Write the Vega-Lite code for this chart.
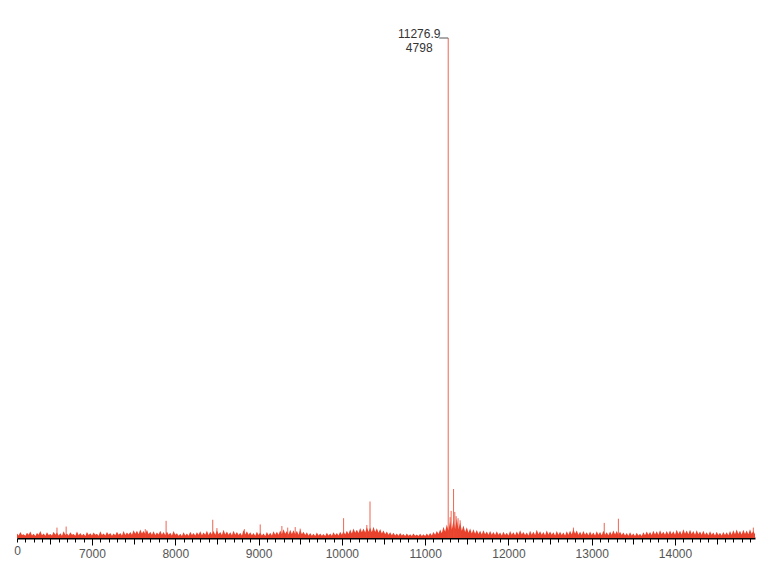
{
  "$schema": "https://vega.github.io/schema/vega-lite/v6.json",
  "width": 738,
  "height": 500,
  "autosize": {"type": "none"},
  "padding": {"left": 17, "top": 38, "right": 20, "bottom": 41},
  "background": "white",
  "config": {"view": {"stroke": null}, "font": "Liberation Sans"},
  "datasets": {
    "noise": [
      {"mz":6100,"i":42},{"mz":6120,"i":24},{"mz":6140,"i":57},{"mz":6160,"i":28},{"mz":6180,"i":37},{"mz":6200,"i":22},{"mz":6220,"i":50},{"mz":6240,"i":30},{"mz":6260,"i":62},{"mz":6280,"i":25},
      {"mz":6300,"i":40},{"mz":6320,"i":20},{"mz":6340,"i":47},{"mz":6360,"i":32},{"mz":6380,"i":67},{"mz":6400,"i":26},{"mz":6420,"i":42},{"mz":6440,"i":22},{"mz":6460,"i":54},{"mz":6480,"i":29},
      {"mz":6500,"i":38},{"mz":6520,"i":24},{"mz":6540,"i":60},{"mz":6560,"i":30},{"mz":6580,"i":52},{"mz":6600,"i":25},{"mz":6620,"i":45},{"mz":6640,"i":21},{"mz":6660,"i":64},{"mz":6680,"i":28},
      {"mz":6700,"i":42},{"mz":6720,"i":23},{"mz":6740,"i":56},{"mz":6760,"i":31},{"mz":6780,"i":39},{"mz":6800,"i":22},{"mz":6820,"i":62},{"mz":6840,"i":27},{"mz":6860,"i":48},{"mz":6880,"i":24},
      {"mz":6900,"i":41},{"mz":6920,"i":20},{"mz":6940,"i":58},{"mz":6960,"i":29},{"mz":6980,"i":46},{"mz":7000,"i":25},{"mz":7020,"i":52},{"mz":7040,"i":32},{"mz":7060,"i":40},{"mz":7080,"i":22},
      {"mz":7100,"i":64},{"mz":7120,"i":28},{"mz":7140,"i":43},{"mz":7160,"i":24},{"mz":7180,"i":57},{"mz":7200,"i":30},{"mz":7220,"i":49},{"mz":7240,"i":21},{"mz":7260,"i":42},{"mz":7280,"i":26},
      {"mz":7300,"i":60},{"mz":7320,"i":31},{"mz":7340,"i":47},{"mz":7360,"i":23},{"mz":7380,"i":67},{"mz":7400,"i":28},{"mz":7420,"i":52},{"mz":7440,"i":34},{"mz":7460,"i":58},{"mz":7480,"i":30},
      {"mz":7500,"i":74},{"mz":7520,"i":40},{"mz":7540,"i":70},{"mz":7560,"i":36},{"mz":7580,"i":82},{"mz":7600,"i":44},{"mz":7620,"i":67},{"mz":7640,"i":38},{"mz":7660,"i":78},{"mz":7680,"i":35},
      {"mz":7700,"i":60},{"mz":7720,"i":32},{"mz":7740,"i":64},{"mz":7760,"i":28},{"mz":7780,"i":52},{"mz":7800,"i":34},{"mz":7820,"i":70},{"mz":7840,"i":30},{"mz":7860,"i":57},{"mz":7880,"i":26},
      {"mz":7900,"i":62},{"mz":7920,"i":32},{"mz":7940,"i":50},{"mz":7960,"i":24},{"mz":7980,"i":67},{"mz":8000,"i":30},{"mz":8020,"i":46},{"mz":8040,"i":22},{"mz":8060,"i":40},{"mz":8080,"i":20},
      {"mz":8100,"i":54},{"mz":8120,"i":25},{"mz":8140,"i":42},{"mz":8160,"i":22},{"mz":8180,"i":60},{"mz":8200,"i":28},{"mz":8220,"i":48},{"mz":8240,"i":24},{"mz":8260,"i":56},{"mz":8280,"i":30},
      {"mz":8300,"i":64},{"mz":8320,"i":26},{"mz":8340,"i":52},{"mz":8360,"i":32},{"mz":8380,"i":70},{"mz":8400,"i":28},{"mz":8420,"i":59},{"mz":8440,"i":34},{"mz":8460,"i":67},{"mz":8480,"i":30},
      {"mz":8500,"i":74},{"mz":8520,"i":36},{"mz":8540,"i":57},{"mz":8560,"i":28},{"mz":8580,"i":78},{"mz":8600,"i":34},{"mz":8620,"i":62},{"mz":8640,"i":30},{"mz":8660,"i":54},{"mz":8680,"i":26},
      {"mz":8700,"i":70},{"mz":8720,"i":32},{"mz":8740,"i":58},{"mz":8760,"i":28},{"mz":8780,"i":50},{"mz":8800,"i":24},{"mz":8820,"i":76},{"mz":8840,"i":34},{"mz":8860,"i":64},{"mz":8880,"i":30},
      {"mz":8900,"i":56},{"mz":8920,"i":26},{"mz":8940,"i":48},{"mz":8960,"i":22},{"mz":8980,"i":60},{"mz":9000,"i":28},{"mz":9020,"i":52},{"mz":9040,"i":24},{"mz":9060,"i":42},{"mz":9080,"i":20},
      {"mz":9100,"i":57},{"mz":9120,"i":26},{"mz":9140,"i":50},{"mz":9160,"i":23},{"mz":9180,"i":64},{"mz":9200,"i":30},{"mz":9220,"i":60},{"mz":9240,"i":32},{"mz":9260,"i":72},{"mz":9280,"i":36},
      {"mz":9300,"i":84},{"mz":9320,"i":40},{"mz":9340,"i":67},{"mz":9360,"i":34},{"mz":9380,"i":80},{"mz":9400,"i":38},{"mz":9420,"i":74},{"mz":9440,"i":36},{"mz":9460,"i":70},{"mz":9480,"i":32},
      {"mz":9500,"i":82},{"mz":9520,"i":35},{"mz":9540,"i":60},{"mz":9560,"i":28},{"mz":9580,"i":54},{"mz":9600,"i":25},{"mz":9620,"i":47},{"mz":9640,"i":22},{"mz":9660,"i":40},{"mz":9680,"i":20},
      {"mz":9700,"i":52},{"mz":9720,"i":24},{"mz":9740,"i":44},{"mz":9760,"i":21},{"mz":9780,"i":38},{"mz":9800,"i":19},{"mz":9820,"i":50},{"mz":9840,"i":24},{"mz":9860,"i":42},{"mz":9880,"i":22},
      {"mz":9900,"i":56},{"mz":9920,"i":26},{"mz":9940,"i":47},{"mz":9960,"i":24},{"mz":9980,"i":60},{"mz":10000,"i":30},{"mz":10020,"i":64},{"mz":10040,"i":34},{"mz":10060,"i":70},{"mz":10080,"i":38},
      {"mz":10100,"i":82},{"mz":10120,"i":44},{"mz":10140,"i":90},{"mz":10160,"i":50},{"mz":10180,"i":78},{"mz":10200,"i":48},{"mz":10220,"i":97},{"mz":10240,"i":55},{"mz":10260,"i":92},{"mz":10280,"i":52},
      {"mz":10300,"i":104},{"mz":10320,"i":60},{"mz":10340,"i":100},{"mz":10360,"i":56},{"mz":10380,"i":107},{"mz":10400,"i":58},{"mz":10420,"i":94},{"mz":10440,"i":50},{"mz":10460,"i":87},{"mz":10480,"i":44},
      {"mz":10500,"i":72},{"mz":10520,"i":36},{"mz":10540,"i":62},{"mz":10560,"i":30},{"mz":10580,"i":54},{"mz":10600,"i":26},{"mz":10620,"i":50},{"mz":10640,"i":24},{"mz":10660,"i":42},{"mz":10680,"i":21},
      {"mz":10700,"i":47},{"mz":10720,"i":23},{"mz":10740,"i":38},{"mz":10760,"i":20},{"mz":10780,"i":44},{"mz":10800,"i":22},{"mz":10820,"i":36},{"mz":10840,"i":19},{"mz":10860,"i":42},{"mz":10880,"i":21},
      {"mz":10900,"i":34},{"mz":10920,"i":18},{"mz":10940,"i":40},{"mz":10960,"i":20},{"mz":10980,"i":37},{"mz":11000,"i":19},{"mz":11020,"i":44},{"mz":11040,"i":22},{"mz":11060,"i":48},{"mz":11080,"i":25},
      {"mz":11100,"i":57},{"mz":11120,"i":30},{"mz":11140,"i":67},{"mz":11160,"i":38},{"mz":11180,"i":82},{"mz":11200,"i":45},{"mz":11220,"i":107},{"mz":11240,"i":60},{"mz":11260,"i":130},{"mz":11280,"i":70},
      {"mz":11300,"i":160},{"mz":11320,"i":80},{"mz":11340,"i":170},{"mz":11360,"i":85},{"mz":11380,"i":185},{"mz":11400,"i":82},{"mz":11420,"i":150},{"mz":11440,"i":70},{"mz":11460,"i":120},{"mz":11480,"i":58},
      {"mz":11500,"i":102},{"mz":11520,"i":50},{"mz":11540,"i":92},{"mz":11560,"i":44},{"mz":11580,"i":84},{"mz":11600,"i":40},{"mz":11620,"i":77},{"mz":11640,"i":38},{"mz":11660,"i":70},{"mz":11680,"i":34},
      {"mz":11700,"i":74},{"mz":11720,"i":35},{"mz":11740,"i":62},{"mz":11760,"i":30},{"mz":11780,"i":68},{"mz":11800,"i":32},{"mz":11820,"i":57},{"mz":11840,"i":28},{"mz":11860,"i":64},{"mz":11880,"i":30},
      {"mz":11900,"i":52},{"mz":11920,"i":25},{"mz":11940,"i":60},{"mz":11960,"i":28},{"mz":11980,"i":50},{"mz":12000,"i":24},{"mz":12020,"i":67},{"mz":12040,"i":30},{"mz":12060,"i":56},{"mz":12080,"i":26},
      {"mz":12100,"i":62},{"mz":12120,"i":32},{"mz":12140,"i":74},{"mz":12160,"i":34},{"mz":12180,"i":58},{"mz":12200,"i":28},{"mz":12220,"i":52},{"mz":12240,"i":25},{"mz":12260,"i":70},{"mz":12280,"i":32},
      {"mz":12300,"i":60},{"mz":12320,"i":28},{"mz":12340,"i":78},{"mz":12360,"i":36},{"mz":12380,"i":64},{"mz":12400,"i":30},{"mz":12420,"i":57},{"mz":12440,"i":26},{"mz":12460,"i":72},{"mz":12480,"i":34},
      {"mz":12500,"i":62},{"mz":12520,"i":30},{"mz":12540,"i":54},{"mz":12560,"i":25},{"mz":12580,"i":68},{"mz":12600,"i":32},{"mz":12620,"i":60},{"mz":12640,"i":28},{"mz":12660,"i":52},{"mz":12680,"i":24},
      {"mz":12700,"i":64},{"mz":12720,"i":30},{"mz":12740,"i":70},{"mz":12760,"i":34},{"mz":12780,"i":87},{"mz":12800,"i":40},{"mz":12820,"i":72},{"mz":12840,"i":32},{"mz":12860,"i":60},{"mz":12880,"i":28},
      {"mz":12900,"i":67},{"mz":12920,"i":30},{"mz":12940,"i":56},{"mz":12960,"i":26},{"mz":12980,"i":62},{"mz":13000,"i":28},{"mz":13020,"i":52},{"mz":13040,"i":24},{"mz":13060,"i":64},{"mz":13080,"i":30},
      {"mz":13100,"i":58},{"mz":13120,"i":26},{"mz":13140,"i":70},{"mz":13160,"i":32},{"mz":13180,"i":54},{"mz":13200,"i":26},{"mz":13220,"i":62},{"mz":13240,"i":30},{"mz":13260,"i":72},{"mz":13280,"i":34},
      {"mz":13300,"i":67},{"mz":13320,"i":32},{"mz":13340,"i":60},{"mz":13360,"i":28},{"mz":13380,"i":52},{"mz":13400,"i":24},{"mz":13420,"i":47},{"mz":13440,"i":22},{"mz":13460,"i":56},{"mz":13480,"i":25},
      {"mz":13500,"i":42},{"mz":13520,"i":20},{"mz":13540,"i":50},{"mz":13560,"i":23},{"mz":13580,"i":40},{"mz":13600,"i":20},{"mz":13620,"i":54},{"mz":13640,"i":26},{"mz":13660,"i":62},{"mz":13680,"i":30},
      {"mz":13700,"i":58},{"mz":13720,"i":28},{"mz":13740,"i":70},{"mz":13760,"i":34},{"mz":13780,"i":64},{"mz":13800,"i":30},{"mz":13820,"i":74},{"mz":13840,"i":36},{"mz":13860,"i":60},{"mz":13880,"i":30},
      {"mz":13900,"i":68},{"mz":13920,"i":34},{"mz":13940,"i":72},{"mz":13960,"i":36},{"mz":13980,"i":64},{"mz":14000,"i":32},{"mz":14020,"i":78},{"mz":14040,"i":38},{"mz":14060,"i":70},{"mz":14080,"i":34},
      {"mz":14100,"i":84},{"mz":14120,"i":40},{"mz":14140,"i":72},{"mz":14160,"i":36},{"mz":14180,"i":80},{"mz":14200,"i":38},{"mz":14220,"i":68},{"mz":14240,"i":32},{"mz":14260,"i":74},{"mz":14280,"i":36},
      {"mz":14300,"i":62},{"mz":14320,"i":30},{"mz":14340,"i":70},{"mz":14360,"i":32},{"mz":14380,"i":56},{"mz":14400,"i":26},{"mz":14420,"i":64},{"mz":14440,"i":30},{"mz":14460,"i":52},{"mz":14480,"i":24},
      {"mz":14500,"i":60},{"mz":14520,"i":28},{"mz":14540,"i":50},{"mz":14560,"i":23},{"mz":14580,"i":58},{"mz":14600,"i":28},{"mz":14620,"i":54},{"mz":14640,"i":26},{"mz":14660,"i":67},{"mz":14680,"i":32},
      {"mz":14700,"i":74},{"mz":14720,"i":36},{"mz":14740,"i":82},{"mz":14760,"i":38},{"mz":14780,"i":70},{"mz":14800,"i":34},{"mz":14820,"i":78},{"mz":14840,"i":38},{"mz":14860,"i":72},{"mz":14880,"i":36},
      {"mz":14900,"i":84},{"mz":14920,"i":40},{"mz":14940,"i":67},{"mz":14960,"i":35}
    ],
    "peaks": [
      {"mz":6580,"i":100},{"mz":6690,"i":110},{"mz":7640,"i":85},{"mz":7890,"i":165},{"mz":8450,"i":175},{"mz":8500,"i":95},{"mz":8830,"i":85},
      {"mz":9020,"i":130},{"mz":9280,"i":115},{"mz":9350,"i":100},{"mz":9440,"i":105},{"mz":9500,"i":90},{"mz":10021,"i":190},{"mz":10300,"i":125},{"mz":10338,"i":350},
      {"mz":11276.9,"i":4798},{"mz":11300,"i":200},{"mz":11312,"i":260},{"mz":11341,"i":470},{"mz":11356,"i":250},{"mz":11372,"i":210},{"mz":11395,"i":190},{"mz":11420,"i":170},
      {"mz":12780,"i":100},{"mz":13150,"i":145},{"mz":13320,"i":185},{"mz":14940,"i":100}
    ],
    "label": [{"mz":11276.9,"i":4798,"t1":"11276.9","t2":"4798"}]
  },
  "encoding": {
    "x": {
      "field": "mz", "type": "quantitative",
      "scale": {"domain": [6100, 14960], "nice": false, "zero": false},
      "axis": {
        "title": null,
        "values": [6100,6200,6300,6400,6500,6600,6700,6800,6900,7000,7100,7200,7300,7400,7500,7600,7700,7800,7900,8000,8100,8200,8300,8400,8500,8600,8700,8800,8900,9000,9100,9200,9300,9400,9500,9600,9700,9800,9900,10000,10100,10200,10300,10400,10500,10600,10700,10800,10900,11000,11100,11200,11300,11400,11500,11600,11700,11800,11900,12000,12100,12200,12300,12400,12500,12600,12700,12800,12900,13000,13100,13200,13300,13400,13500,13600,13700,13800,13900,14000,14100,14200,14300,14400,14500,14600,14700,14800,14900],
        "labelExpr": "datum.value === 6100 ? '0' : (datum.value % 1000 === 0 ? format(datum.value, 'd') : '')",
        "labelOverlap": false,
        "labelFlush": false,
        "labelFont": "Liberation Sans",
        "labelFontSize": 12,
        "labelColor": "#555",
        "labelPadding": 3,
        "domainColor": "#000",
        "domainWidth": 2,
        "tickColor": "#000",
        "tickWidth": 1,
        "tickSize": {"condition": [{"test": "datum.value % 1000 === 0", "value": 7}, {"test": "datum.value % 500 === 0", "value": 6}], "value": 4},
        "grid": false
      }
    },
    "y": {
      "field": "i", "type": "quantitative",
      "scale": {"domain": [0, 4798], "nice": false},
      "axis": null
    }
  },
  "layer": [
    {
      "data": {"name": "noise"},
      "mark": {"type": "area", "color": "#e8412c", "interpolate": "linear"}
    },
    {
      "data": {"name": "peaks"},
      "mark": {"type": "rule", "color": "#ea4a35", "strokeWidth": 1, "opacity": 0.85},
      "encoding": {"y2": {"datum": 0}}
    },
    {
      "data": {"name": "label"},
      "mark": {"type": "rule", "color": "#555", "strokeWidth": 1, "x2Offset": -9},
      "encoding": {"x2": {"field": "mz"}}
    },
    {
      "data": {"name": "label"},
      "mark": {"type": "text", "align": "center", "baseline": "middle", "dx": -29, "dy": -4, "fontSize": 12, "color": "#333", "font": "Liberation Sans"},
      "encoding": {"text": {"field": "t1"}}
    },
    {
      "data": {"name": "label"},
      "mark": {"type": "text", "align": "center", "baseline": "middle", "dx": -29, "dy": 10, "fontSize": 12, "color": "#333", "font": "Liberation Sans"},
      "encoding": {"text": {"field": "t2"}}
    }
  ]
}
